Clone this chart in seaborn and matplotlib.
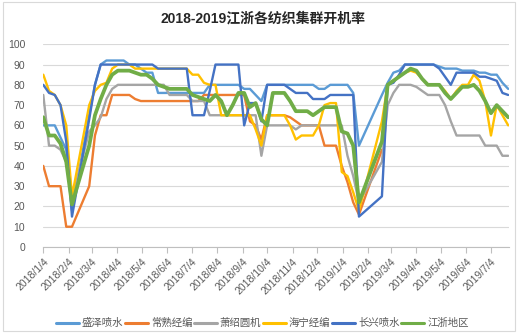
import matplotlib
matplotlib.use("Agg")
import matplotlib.pyplot as plt
from matplotlib.patches import Rectangle
import numpy as np
import pandas as pd
import seaborn as sns

# Weekly survey dates (Thursdays); Spring Festival weeks have no survey
survey_weeks = pd.date_range("2018-01-04", "2019-07-25", freq="7D")
no_survey = pd.to_datetime(["2018-02-15", "2018-02-22",
                            "2019-01-31", "2019-02-07", "2019-02-14"])
dates = survey_weeks.drop(no_survey)

series_names = ["盛泽喷水", "常熟经编", "萧绍圆机", "海宁经编", "长兴喷水", "江浙地区"]

shengze = [60, 60, 60, 54, 48, 18,
           65, 80, 90, 92, 92, 92, 92, 90, 90, 88, 86, 86,
           76, 76, 76, 76, 76, 76, 76, 76, 76, 80, 80, 80, 80, 80, 80,
           78, 78, 75, 72, 80, 80, 80, 80, 80, 80, 80, 80,
           80, 78, 78, 80, 80, 80, 80, 76, 50,
           75, 81, 86, 87, 90, 90, 90, 90, 90, 90, 89, 88, 88,
           88, 87, 87, 87, 86, 86, 85, 85, 81, 78]

changshu = [40, 30, 30, 30, 10, 10,
            30, 55, 65, 65, 75, 75, 75, 75, 73, 72, 72, 72,
            72, 72, 72, 72, 72, 72, 72, 72, 75, 75, 75, 75, 75, 75, 75,
            75, 62, 60, 53, 65, 65, 65, 65, 64, 62, 60, 60,
            60, 60, 50, 50, 50, 40, 32, 22, 16,
            48] + [np.nan] * 22

xiaoshao = [75, 50, 50, 48, 42, 24,
            57, 60, 64, 73, 78, 80, 80, 80, 80, 80, 80, 80,
            80, 80, 75, 75, 75, 75, 72, 72, 72, 65, 65, 65, 65, 65, 65,
            65, 65, 65, 45, 60, 60, 60, 60, 60, 58, 60, 60,
            60, 60, 60, 60, 60, 60, 45, 35, 22,
            42, 70, 76, 80, 80, 80, 79, 77, 75, 75, 75, 70, 62,
            55, 55, 55, 55, 55, 50, 50, 50, 45, 45]

haining = [85, 77, 75, 70, 60, 25,
           70, 77, 80, 81, 88, 90, 90, 90, 88, 88, 88, 88,
           88, 88, 88, 88, 88, 88, 85, 85, 81, 80, 80, 65, 65, 65, 65,
           65, 65, 58, 50, 65, 65, 65, 65, 60, 53, 55, 55,
           55, 60, 70, 71, 71, 37, 35, 27, 18,
           62, 80, 82, 84, 86, 87, 86, 83, 80, 80, 80, 77, 73,
           77, 80, 80, 85, 82, 72, 55, 70, 65, 60]

changxing = [80, 76, 75, 70, 52, 15,
             63, 80, 90, 90, 90, 90, 90, 90, 90, 90, 90, 90,
             88, 88, 88, 88, 88, 88, 65, 65, 65, 77, 90, 90, 90, 90, 90,
             60, 71, 71, 62, 80, 80, 80, 80, 78, 76, 76, 76,
             73, 73, 73, 75, 75, 75, 75, 75, 15,
             25, 80, 81, 85, 90, 90, 90, 90, 90, 90, 88, 84, 80,
             86, 86, 86, 86, 84, 84, 83, 82, 76, 75]

jiangzhe = [64, 55, 55, 51, 42, 21,
            50, 65, 73, 80, 85, 87, 87, 87, 86, 85, 85, 83,
            80, 79, 78, 78, 78, 78, 75, 74, 73, 72, 75, 72, 65, 70, 76,
            76, 69, 71, 63, 60, 76, 76, 76, 72, 67, 67, 67,
            65, 67, 69, 69, 69, 57, 56, 50, 22,
            52, 80, 82, 84, 86, 88, 87, 83, 80, 80, 80, 76, 73,
            76, 79, 79, 80, 77, 72, 66, 70, 67, 64]

values = [shengze, changshu, xiaoshao, haining, changxing, jiangzhe]
colors = ["#5B9BD5", "#ED7D31", "#A5A5A5", "#FFC000", "#4472C4", "#70AD47"]
widths = [1.7, 1.7, 1.7, 1.7, 1.7, 2.7]

# Major ticks on the 4th of every month
month_ticks = pd.date_range("2018-01-01", "2019-07-01", freq="MS") + pd.Timedelta(days=3)

sns.set_theme(style="white")
plt.rcParams["font.family"] = ["Liberation Sans", "Noto Sans CJK SC", "DejaVu Sans"]

fig = plt.figure(figsize=(5.26, 3.35), dpi=100)
ax = fig.add_axes([0.0823, 0.2627, 0.8854, 0.6051])

for name, vals, c, lw in zip(series_names, values, colors, widths):
    df = pd.DataFrame({"date": dates, "rate": vals})
    sns.lineplot(data=df, x="date", y="rate", ax=ax, color=c, linewidth=lw,
                 label=name, sort=False, estimator=None)

ax.set_ylim(0, 100)
ax.set_xlim(pd.Timestamp("2018-01-04"), pd.Timestamp("2019-07-26"))
ax.set_yticks(range(0, 101, 10))
ax.set_xticks(month_ticks)
ax.set_xticklabels([f"{d.year}/{d.month}/{d.day}" for d in month_ticks],
                   rotation=45, ha="right", rotation_mode="anchor")
ax.set_xlabel("")
ax.set_ylabel("")

ax.grid(axis="y", color="#D9D9D9", linewidth=0.8)
ax.grid(axis="x", visible=False)
for side in ["top", "right", "left"]:
    ax.spines[side].set_visible(False)
ax.spines["bottom"].set_color("#BFBFBF")
ax.spines["bottom"].set_linewidth(0.8)
ax.tick_params(axis="x", bottom=True, length=4, width=0.8, color="#BFBFBF",
               labelsize=7.5, labelcolor="#595959", pad=3)
ax.tick_params(axis="y", left=False, labelsize=7.5, labelcolor="#595959", pad=7)

ax.legend(loc="upper center", bbox_to_anchor=(0.47, -0.33), ncol=6, frameon=False,
          fontsize=7.5, handlelength=2.2, handletextpad=0.3, columnspacing=0.15,
          borderaxespad=0)
for line in ax.get_legend().get_lines():
    line.set_linewidth(2.2)
for text in ax.get_legend().get_texts():
    text.set_color("#595959")

fig.text(0.5, 0.946, "2018-2019江浙各纺织集群开机率", ha="center", va="center",
         fontsize=10, fontweight="bold", color="#262626")

fig.patches.append(Rectangle((3 / 526, 1 - 331 / 335), 512 / 526, 329 / 335,
                             transform=fig.transFigure, fill=False,
                             edgecolor="#D9D9D9", linewidth=0.8))

fig.savefig("out.png", dpi=100, facecolor="white")
